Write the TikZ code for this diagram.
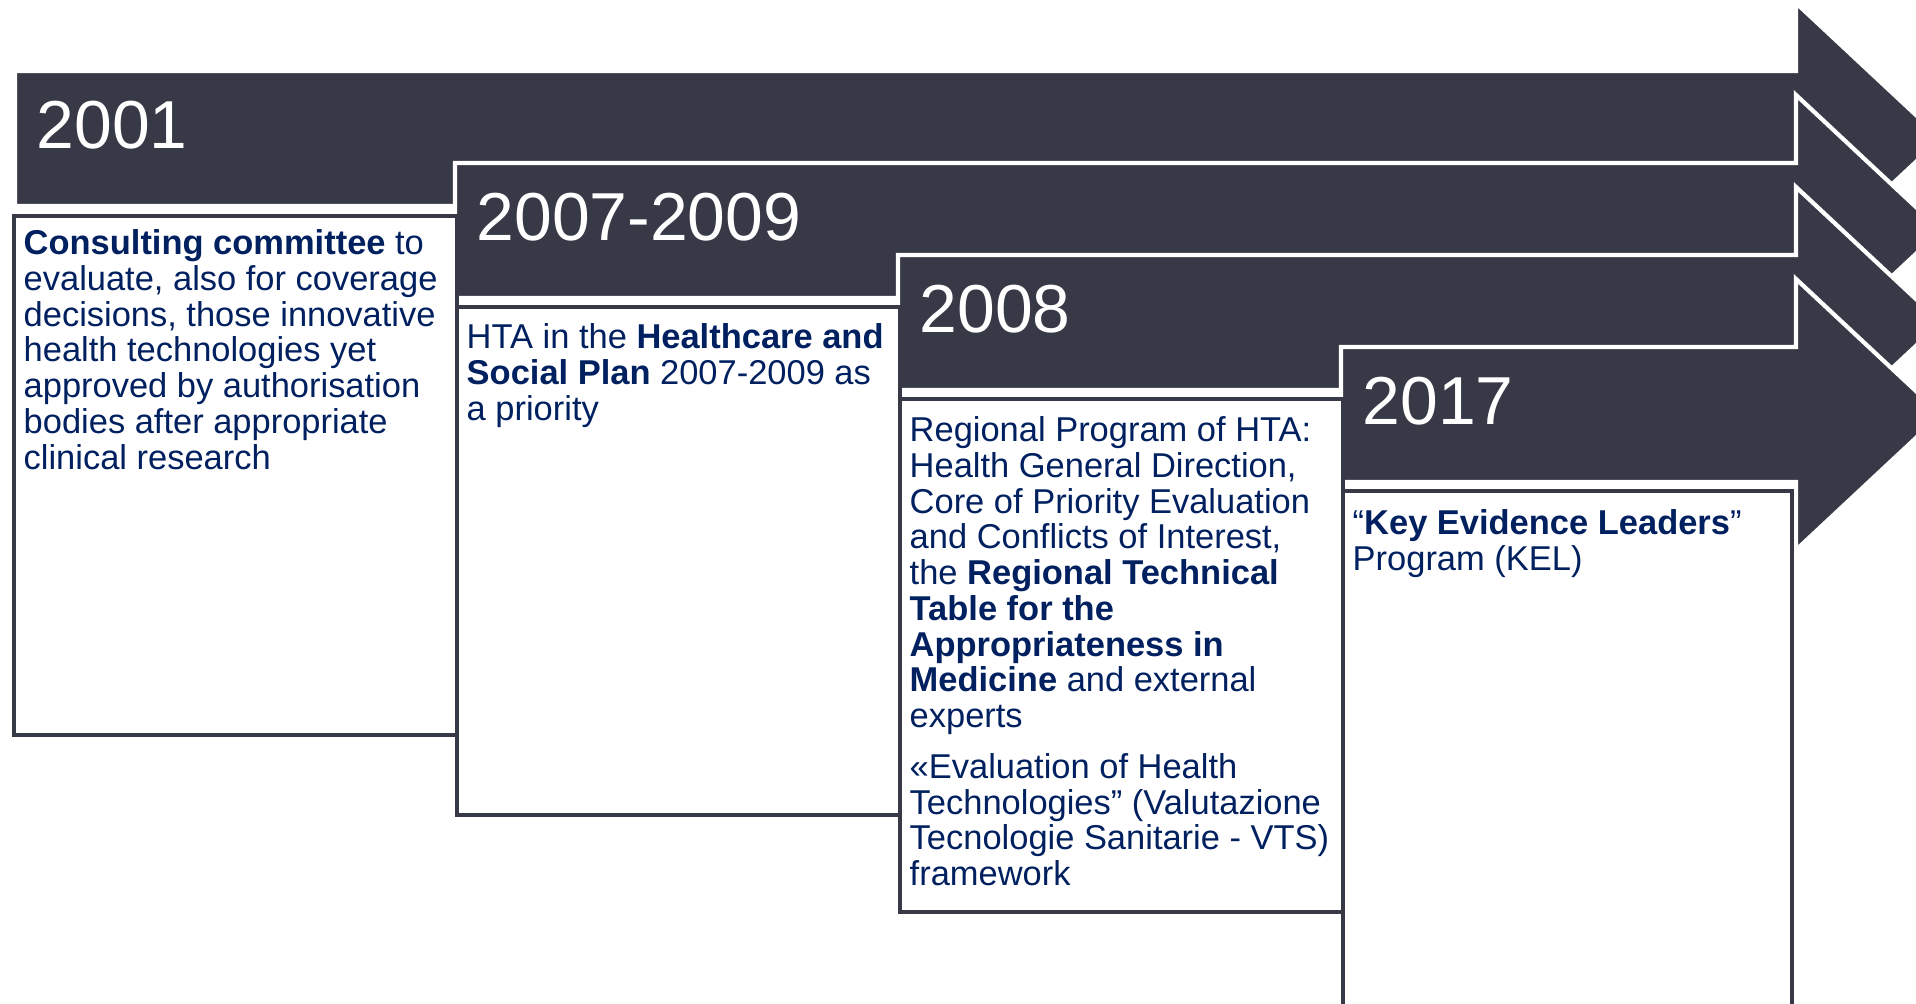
\documentclass[tikz,border=0pt]{standalone}
\usepackage{fontspec}
\setmainfont{Liberation Sans}
\usetikzlibrary{positioning}
\definecolor{bandgray}{RGB}{55,57,70}
\definecolor{navytext}{RGB}{0,32,96}

\begin{document}
\begin{tikzpicture}[x=0.01cm,y=-0.01cm,
  band/.style={fill=bandgray,draw=white,line width=1.2pt,line join=miter},
  yr/.style={text=white,font=\fontsize{19.3}{23}\selectfont,anchor=base west,inner sep=0pt},
  card/.style={draw=bandgray,fill=white,line width=1.1pt,anchor=north west,minimum width=4.43cm,inner sep=0pt},
  txt/.style={text=navytext,font=\fontsize{9.8}{10.16}\selectfont,align=left,anchor=north west,inner sep=0pt}]
  \useasboundingbox (0,0) rectangle (1916,1004);
  \clip (0,0) rectangle (1916,1004);
  % timeline bands, one per period
  \foreach \x/\ty/\nm/\yrtext in {15/71/a/2001,455/163/b/2007-2009,898/255/c/2008,1341/347/d/2017}{
    \draw[band] (\x,\ty) -- (1796,\ty) -- (1796,\ty-68) -- (1941,\ty+67.5) -- (1796,\ty+203) -- (1796,\ty+135) -- (\x,\ty+135) -- cycle;
    \node[yr] (yr\nm) at (\x+21,\ty+78) {\yrtext};
  }
  % description cards
  \node[card,minimum height=5.19cm] (ca) at (12,214) {};
  \node[card,minimum height=5.08cm] (cb) at (455,305) {};
  \node[card,minimum height=5.13cm] (cc) at (898,397) {};
  \node[card,minimum height=5.4cm,minimum width=4.49cm] (cd) at (1341,489) {};
  \node[txt] (ta) at ([xshift=0.11cm,yshift=-0.15cm]ca.north west) {\textbf{Consulting committee} to\\evaluate, also for coverage\\decisions, those innovative\\health technologies yet\\approved by authorisation\\bodies after appropriate\\clinical research};
  \node[txt] (tb) at ([xshift=0.11cm,yshift=-0.18cm]cb.north west) {HTA in the \textbf{Healthcare and}\\\textbf{Social Plan} 2007-2009 as\\a priority};
  \node[txt] (tc) at ([xshift=0.11cm,yshift=-0.19cm]cc.north west) {Regional Program of HTA:\\Health General Direction,\\Core of Priority Evaluation\\and Conflicts of Interest,\\the \textbf{Regional Technical}\\\textbf{Table for the}\\\textbf{Appropriateness in}\\\textbf{Medicine} and external\\experts\\[4.3pt]«Evaluation of Health\\Technologies” (Valutazione\\Tecnologie Sanitarie - VTS)\\framework};
  \node[txt] (td) at ([xshift=0.11cm,yshift=-0.20cm]cd.north west) {“\textbf{Key Evidence Leaders}”\\Program (KEL)};
\end{tikzpicture}
\end{document}
